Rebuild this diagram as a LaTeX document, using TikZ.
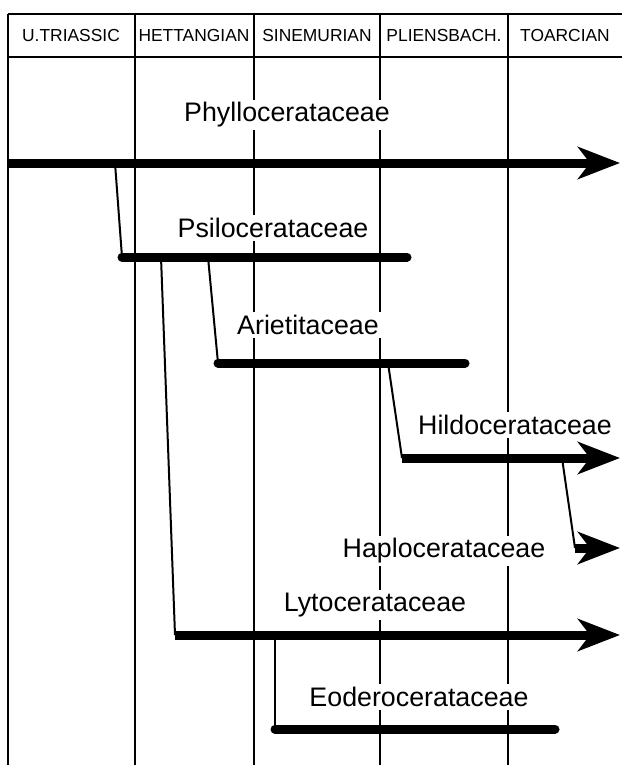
\documentclass[tikz,border=0pt]{standalone}
\usepackage{fontspec}
\setmainfont{Liberation Sans}
\usepackage{tikz}
\usetikzlibrary{arrows.meta}

\begin{document}
\begin{tikzpicture}[x=0.5pt, y=-0.5pt, line width=1pt,
  stage/.style={font=\fontsize{8.7}{10}\selectfont, inner sep=0pt},
  taxon/.style={fill=white, inner sep=1.5pt, font=\fontsize{13.4}{16}\selectfont},
  lineage/.style={line width=4.5pt, line cap=round},
  living/.style={line width=4.5pt, -{Stealth[length=21pt,width=16pt,inset=6pt]}}]
  \useasboundingbox (0,0) rectangle (622,765);
  % stage columns
  \draw (8,14) -- (622,14);
  \draw (8,57) -- (622,57);
  \foreach \x in {8,135,254,380,508}
    \draw (\x,14) -- (\x,765);
  \foreach \x/\nm/\t in {71/tri/U.TRIASSIC, 194/het/HETTANGIAN, 317/sin/SINEMURIAN,
                         444/pli/PLIENSBACH., 565/toa/TOARCIAN}
    \node[stage] (\nm) at (\x,36) {\t};
  % superfamily names (white ground breaks the column lines)
  \node[taxon] (phyllo) at (287,115) {Phyllocerataceae};
  \node[taxon] (psilo)  at (273,228) {Psilocerataceae};
  \node[taxon] (ariet)  at (308,325) {Arietitaceae};
  \node[taxon] (hildo)  at (515,425) {Hildocerataceae};
  \node[taxon] (haplo)  at (444,551) {Haplocerataceae};
  \node[taxon] (lyto)   at (375,605) {Lytocerataceae};
  \node[taxon] (eodero) at (419,697) {Eoderocerataceae};
  % ranges: start, end and branch points
  \coordinate (phy0) at (8,163);   \coordinate (phy1) at (620,163);
  \coordinate (phyB) at (115,163);
  \coordinate (psi0) at (122,257); \coordinate (psi1) at (407,257);
  \coordinate (psiL) at (161,257); \coordinate (psiA) at (208,257);
  \coordinate (ari0) at (218,363); \coordinate (ari1) at (465,363);
  \coordinate (ariB) at (388,363);
  \coordinate (hil0) at (402,458); \coordinate (hil1) at (620,458);
  \coordinate (hilB) at (562,458);
  \coordinate (hap0) at (575,548); \coordinate (hap1) at (620,548);
  \coordinate (lyt0) at (175,635); \coordinate (lyt1) at (620,635);
  \coordinate (lytB) at (275,635);
  \coordinate (eod0) at (275,729); \coordinate (eod1) at (555,729);
  % branchings
  \foreach \a/\b in {phyB/psi0, psiL/lyt0, psiA/ari0, ariB/hil0, hilB/hap0, lytB/eod0}
    \draw (\a) -- (\b);
  % extinct lineages
  \draw[lineage] (psi0) -- (psi1);
  \draw[lineage] (ari0) -- (ari1);
  \draw[lineage] (eod0) -- (eod1);
  % lineages that go on
  \foreach \a/\b in {phy0/phy1, hil0/hil1, hap0/hap1, lyt0/lyt1}
    \draw[living] (\a) -- (\b);
\end{tikzpicture}
\end{document}
